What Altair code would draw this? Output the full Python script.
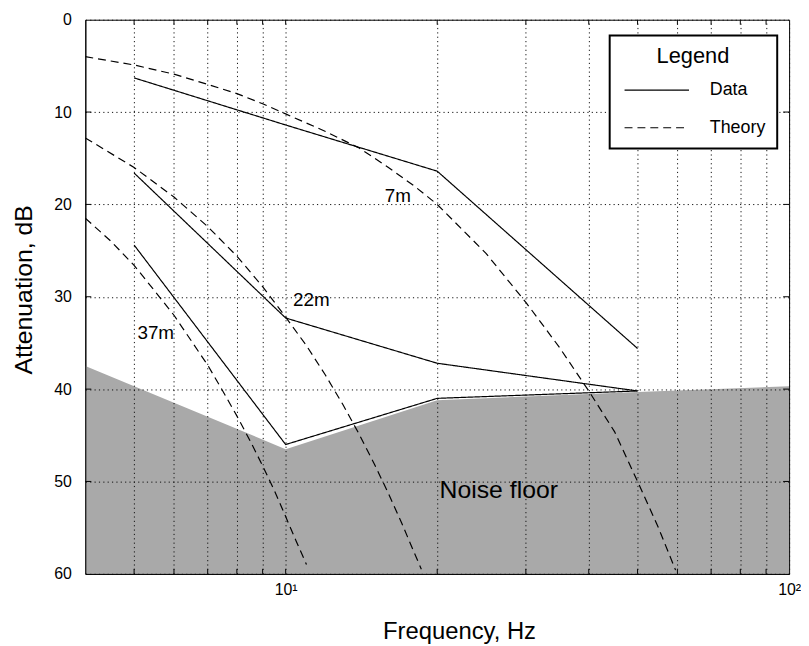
import altair as alt
import pandas as pd

# ---- data ----
freq_data = [5, 10, 20, 50]
data_7m = [6.3, 11.4, 16.4, 35.6]
data_22m = [16.6, 32.3, 37.2, 40.2]
data_37m = [24.4, 46.0, 41.0, 40.2]

theory_7m_f = [4, 5, 6, 7, 8, 9, 10, 12, 14, 16, 18, 20, 25, 30, 35, 40, 45, 50, 55, 59.5]
theory_7m_db = [4.0, 4.9, 5.9, 7.0, 8.0, 9.1, 10.2, 12.1, 13.9, 16.0, 18.0, 20.0, 25.3, 30.6, 35.5, 40.2, 44.6, 50.0, 55.0, 59.6]
theory_22m_f = [4, 5, 6, 7, 8, 9, 10, 11, 12, 13, 14, 15, 16, 17, 18, 18.6]
theory_22m_db = [12.8, 16.0, 19.2, 22.4, 25.6, 28.9, 32.2, 35.3, 38.5, 41.7, 44.9, 48.1, 51.3, 54.5, 57.7, 59.5]
theory_37m_f = [4, 4.5, 5, 5.5, 6, 6.5, 7, 7.5, 8, 8.5, 9, 9.5, 10, 10.5, 11]
theory_37m_db = [21.5, 24.0, 26.6, 29.4, 32.0, 34.8, 37.4, 40.2, 42.9, 45.6, 48.3, 51.0, 53.8, 56.5, 59.0]

noise_f = [4, 10, 20, 50, 100]
noise_db = [37.5, 46.5, 41.2, 40.3, 39.7]

range_labels = ["7m", "22m", "37m"]
range_label_f = [16.7, 11.25, 5.52]
range_label_db = [19.1, 30.4, 33.9]

noise_label = ["Noise floor"]
noise_label_f = [26.5]
noise_label_db = [50.9]

x_grid = [5, 6, 7, 8, 9, 10, 20, 30, 40, 50, 60, 70, 80, 90, 100]
x_minor = [5, 6, 7, 8, 9, 10, 20, 30, 40, 50, 60, 70, 80, 90]
y_values = [0, 10, 20, 30, 40, 50, 60]
y_inner = [10, 20, 30, 40, 50]

# ---- tables ----
rows = []
for name, vals in [("7m", data_7m), ("22m", data_22m), ("37m", data_37m)]:
    for f, d in zip(freq_data, vals):
        rows.append({"series": "data " + name, "kind": "Data", "f": f, "db": d})
for name, fs, ds in [("7m", theory_7m_f, theory_7m_db),
                     ("22m", theory_22m_f, theory_22m_db),
                     ("37m", theory_37m_f, theory_37m_db)]:
    for f, d in zip(fs, ds):
        rows.append({"series": "theory " + name, "kind": "Theory", "f": f, "db": d})
lines_df = pd.DataFrame(rows)
noise_df = pd.DataFrame({"f": noise_f, "db": noise_db})
lab_df = pd.DataFrame({"f": range_label_f, "db": range_label_db, "t": range_labels})
nlab_df = pd.DataFrame({"f": noise_label_f, "db": noise_label_db, "t": noise_label})
ytick_df = pd.DataFrame({"db": y_inner})
xtick_df = pd.DataFrame({"f": x_minor})

W, H = 710, 559
FONT = "Liberation Sans"
xs = alt.Scale(type="log", domain=[4, 100], nice=False)
ys = alt.Scale(domain=[0, 60], reverse=True, nice=False, zero=False)

x_axis = alt.Axis(
    values=x_grid,
    labelExpr="datum.value == 10 ? '10\u00b9' : (datum.value == 100 ? '10\u00b2' : '')",
    grid=True, gridColor="#111111", gridDash=[1.2, 3.2], gridWidth=1, gridOpacity=1,
    ticks=False, domainColor="black", domainWidth=1,
    labelFont=FONT, labelFontSize=16, labelColor="black", labelPadding=8,
    labelFlush=False, labelOverlap=False,
    title="Frequency, Hz", titleFont=FONT, titleFontSize=24, titleFontWeight="normal",
    titleColor="black", titleX=377, titleY=46, titleBaseline="top", titleAlign="center",
    zindex=1,
)
y_axis = alt.Axis(
    values=y_values,
    grid=True, gridColor="#111111", gridDash=[1.2, 3.2], gridWidth=1, gridOpacity=1,
    ticks=False, domainColor="black", domainWidth=1,
    labelFont=FONT, labelFontSize=16, labelColor="black", labelPadding=14,
    labelFlush=False, labelOverlap=False,
    title="Attenuation, dB", titleFont=FONT, titleFontSize=25, titleFontWeight="normal",
    titleColor="black", titleAngle=270, titleX=-54, titleY=272,
    titleAlign="center", titleBaseline="alphabetic",
    zindex=1,
)

X = alt.X("f:Q", scale=xs, axis=x_axis)
Y = alt.Y("db:Q", scale=ys, axis=y_axis)

noise = alt.Chart(noise_df).mark_area(color="#a9a9a9", clip=True).encode(
    x=X, y=Y, y2=alt.datum(60),
)

lines = alt.Chart(lines_df).mark_line(color="black", strokeWidth=1.2, clip=True).encode(
    x=X, y=Y,
    detail="series:N",
    strokeDash=alt.StrokeDash(
        "kind:N",
        scale=alt.Scale(domain=["Data", "Theory"], range=[[1, 0], [8, 5]]),
        legend=alt.Legend(
            title="Legend", orient="none", legendX=529, legendY=16,
            fillColor="white", strokeColor="black", padding=11,
            titleAnchor="middle", titleFont=FONT, titleFontSize=22,
            titleFontWeight="normal", titleColor="black", titlePadding=12,
            labelFont=FONT, labelFontSize=18, labelColor="black", labelOffset=20,
            symbolType="stroke", symbolStrokeColor="black", symbolStrokeWidth=1.2,
            symbolSize=4225, symbolOffset=3, clipHeight=20, rowPadding=18, zindex=2,
        ),
    ),
)

labels = alt.Chart(lab_df).mark_text(font=FONT, fontSize=19, color="black").encode(
    x=X, y=Y, text="t:N",
)
nlabel = alt.Chart(nlab_df).mark_text(font=FONT, fontSize=25, color="black").encode(
    x=X, y=Y, text="t:N",
)

left_ticks = alt.Chart(ytick_df).mark_rule(color="black").encode(
    y=Y, x=alt.value(0), x2=alt.value(6))
right_ticks = alt.Chart(ytick_df).mark_rule(color="black").encode(
    y=Y, x=alt.value(W), x2=alt.value(W - 6))
bottom_ticks = alt.Chart(xtick_df).mark_rule(color="black").encode(
    x=X, y=alt.value(H), y2=alt.value(H - 5))
top_ticks = alt.Chart(xtick_df).mark_rule(color="black").encode(
    x=X, y=alt.value(0), y2=alt.value(5))

chart = alt.layer(
    noise, lines, labels, nlabel, left_ticks, right_ticks, bottom_ticks, top_ticks
).properties(
    width=W, height=H,
    autosize=alt.AutoSizeParams(type="none"),
    padding={"left": 78, "top": 9, "right": 12, "bottom": 69},
    background="white",
).configure_view(
    stroke="black", strokeWidth=1,
).configure_legend(
    strokeWidth=2,
)

chart.save("out.html", embed_options={"renderer": "svg", "actions": False})
